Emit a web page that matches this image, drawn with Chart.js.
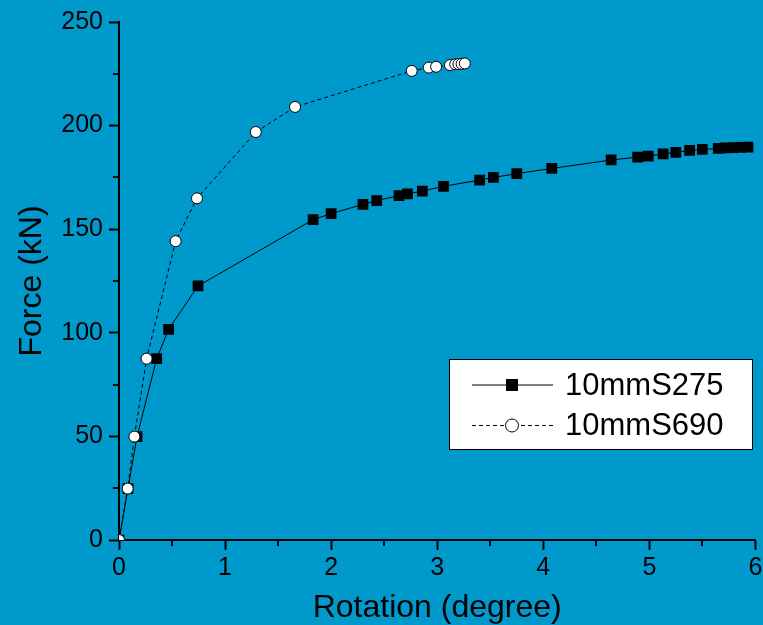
<!DOCTYPE html>
<html><head><meta charset="utf-8">
<script src="https://cdn.jsdelivr.net/npm/chart.js@4/dist/chart.umd.min.js"></script>
<style>html,body{margin:0;padding:0;background:#0099cc;}#wrap{width:763px;height:625px;}</style>
</head><body><div id="wrap"><canvas id="c" width="763" height="625"></canvas></div>
<script>
const seriesNames = ['10mmS275', '10mmS690'];
const s275Rotation = [0, 0.085, 0.17, 0.355, 0.468, 0.745, 1.83, 2.0, 2.30, 2.43, 2.64, 2.72, 2.86, 3.06, 3.40, 3.53, 3.75, 4.08, 4.64, 4.89, 4.99, 5.13, 5.25, 5.38, 5.50, 5.65, 5.72, 5.79, 5.86, 5.93];
const s275Force    = [0, 24.8, 49.9, 87.5, 101.7, 122.6, 154.6, 157.5, 162.0, 163.8, 166.2, 167.0, 168.4, 170.7, 173.7, 175.0, 176.8, 179.3, 183.4, 184.8, 185.3, 186.3, 187.1, 188.0, 188.5, 189.0, 189.2, 189.4, 189.5, 189.6];
const s690Rotation = [0, 0.082, 0.145, 0.26, 0.534, 0.735, 1.29, 1.66, 2.76, 2.92, 2.99, 3.12, 3.17, 3.20, 3.23, 3.26];
const s690Force    = [0, 24.8, 49.9, 87.5, 144.2, 164.9, 196.9, 209.0, 226.4, 228.0, 228.4, 229.2, 229.6, 229.7, 229.8, 230.0];
const xTicks = [0, 1, 2, 3, 4, 5, 6];
const yTicks = [0, 50, 100, 150, 200, 250];
const xMinorTicks = [0.5, 1.5, 2.5, 3.5, 4.5, 5.5];
const yMinorTicks = [25, 75, 125, 175, 225];
const xTitle = 'Rotation (degree)';
const yTitle = 'Force (kN)';

const FONT = '"Liberation Sans", Arial, sans-serif';

const pairs = (xs, ys) => xs.map((x, i) => ({x: x, y: ys[i]}));

const extras = {
  id: 'extras',
  afterDraw(chart) {
    const ctx = chart.ctx;
    const xs = chart.scales.x, ys = chart.scales.y;
    ctx.save();
    ctx.strokeStyle = '#000';
    ctx.lineWidth = 2;
    ctx.beginPath();
    xMinorTicks.forEach(v => {
      const px = Math.round(xs.getPixelForValue(v));
      ctx.moveTo(px, ys.bottom); ctx.lineTo(px, ys.bottom + 6);
    });
    yMinorTicks.forEach(v => {
      const py = Math.round(ys.getPixelForValue(v));
      ctx.moveTo(xs.left, py); ctx.lineTo(xs.left - 6, py);
    });
    ctx.stroke();

    // legend
    const bx = 449.5, by = 359.5, bw = 303, bh = 90;
    ctx.fillStyle = '#fff';
    ctx.fillRect(bx, by, bw, bh);
    ctx.lineWidth = 1;
    ctx.strokeRect(bx, by, bw, bh);
    const rows = [by + 25.5, by + 66];
    chart.data.datasets.forEach((ds) => {
      const idx = seriesNames.indexOf(ds.label);
      const y = rows[idx];
      ctx.save();
      ctx.strokeStyle = '#000';
      ctx.lineWidth = 1;
      ctx.setLineDash(ds.borderDash || []);
      ctx.beginPath();
      ctx.moveTo(472, y); ctx.lineTo(553, y);
      ctx.stroke();
      ctx.setLineDash([]);
      if (ds.pointStyle === 'rect') {
        ctx.fillStyle = '#000';
        ctx.fillRect(506, y - 6, 12, 12);
      } else {
        ctx.fillStyle = '#fff';
        ctx.beginPath();
        ctx.arc(512, y, 6.5, 0, Math.PI * 2);
        ctx.fill(); ctx.stroke();
      }
      ctx.fillStyle = '#000';
      ctx.font = '31px ' + FONT;
      ctx.textBaseline = 'middle';
      ctx.textAlign = 'left';
      ctx.fillText(ds.label, 565, y + 1);
      ctx.restore();
    });
    ctx.restore();
  }
};

new Chart(document.getElementById('c'), {
  type: 'line',
  data: {
    datasets: [
      {
        label: seriesNames[0],
        data: pairs(s275Rotation, s275Force),
        borderColor: '#000', borderWidth: 1,
        pointStyle: 'rect', pointRadius: 7.6,
        pointBackgroundColor: '#000', pointBorderColor: '#000', pointBorderWidth: 0,
        order: 2, tension: 0
      },
      {
        label: seriesNames[1],
        data: pairs(s690Rotation, s690Force),
        borderColor: '#000', borderWidth: 1, borderDash: [4, 3],
        pointStyle: 'circle', pointRadius: 5.5,
        pointBackgroundColor: '#fff', pointBorderColor: '#000', pointBorderWidth: 1,
        order: 1, tension: 0
      }
    ]
  },
  options: {
    responsive: false,
    animation: false,
    devicePixelRatio: 1,
    layout: { padding: { top: 22, right: 0, left: 0, bottom: 0 } },
    plugins: { legend: { display: false }, tooltip: { enabled: false } },
    scales: {
      x: {
        type: 'linear', min: 0, max: 6,
        afterBuildTicks: s => { s.ticks = xTicks.map(v => ({value: v})); },
        afterFit: s => { s.height = 85; s.paddingRight = 7; },
        ticks: { color: '#000', font: { family: FONT, size: 25 }, padding: 3, maxRotation: 0 },
        grid: { drawOnChartArea: false, drawTicks: true, tickLength: 10, tickWidth: 2, color: '#000' },
        border: { display: true, width: 2, color: '#000' },
        title: { display: true, text: xTitle, color: '#000', font: { family: FONT, size: 32 }, padding: { top: 0, bottom: -2 } }
      },
      y: {
        type: 'linear', min: 0, max: 250,
        afterBuildTicks: s => { s.ticks = yTicks.map(v => ({value: v})); },
        afterFit: s => { s.width = 119; },
        ticks: { color: '#000', font: { family: FONT, size: 25 }, padding: 6 },
        grid: { drawOnChartArea: false, drawTicks: true, tickLength: 10, tickWidth: 2, color: '#000' },
        border: { display: true, width: 2, color: '#000' },
        title: { display: true, text: yTitle, color: '#000', font: { family: FONT, size: 32 }, padding: { top: 13, bottom: 0 } }
      }
    }
  },
  plugins: [extras]
});
</script>
</body></html>
